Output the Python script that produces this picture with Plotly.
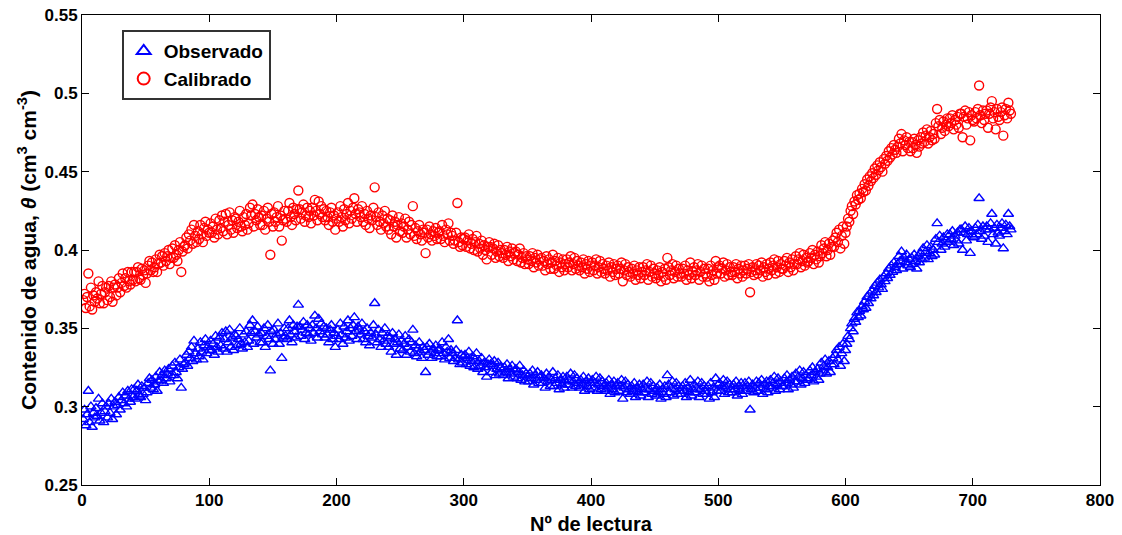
import plotly.graph_objects as go

# water content readings (cm3 cm-3), reading number 1..730
observado = [
    0.292, 0.298, 0.288, 0.295, 0.310, 0.290, 0.300, 0.287, 0.296, 0.293,
    0.299, 0.294, 0.305, 0.291, 0.296, 0.302, 0.290, 0.297, 0.300, 0.293,
    0.302, 0.296, 0.305, 0.292, 0.300, 0.303, 0.295, 0.301, 0.306, 0.298,
    0.304, 0.309, 0.302, 0.307, 0.300, 0.310, 0.305, 0.303, 0.311, 0.306,
    0.311, 0.305, 0.310, 0.314, 0.307, 0.306, 0.313, 0.308, 0.312, 0.304,
    0.309, 0.315, 0.318, 0.312, 0.317, 0.311, 0.314, 0.319, 0.310, 0.316,
    0.322, 0.317, 0.320, 0.315, 0.323, 0.318, 0.321, 0.324, 0.316, 0.320,
    0.326, 0.320, 0.328, 0.322, 0.318, 0.325, 0.330, 0.312, 0.324, 0.327,
    0.328, 0.333, 0.326, 0.335, 0.331, 0.338, 0.329, 0.342, 0.334, 0.330,
    0.337, 0.332, 0.341, 0.335, 0.330, 0.339, 0.343, 0.334, 0.338, 0.336,
    0.342, 0.336, 0.340, 0.333, 0.345, 0.338, 0.335, 0.344, 0.339, 0.347,
    0.337, 0.343, 0.348, 0.335, 0.341, 0.349, 0.338, 0.344, 0.336, 0.346,
    0.345, 0.339, 0.343, 0.350, 0.340, 0.337, 0.346, 0.341, 0.348, 0.338,
    0.342, 0.352, 0.347, 0.355, 0.340, 0.348, 0.344, 0.351, 0.346, 0.341,
    0.347, 0.341, 0.350, 0.338, 0.345, 0.352, 0.343, 0.323, 0.348, 0.340,
    0.349, 0.343, 0.346, 0.353, 0.340, 0.347, 0.331, 0.344, 0.350, 0.345,
    0.343, 0.350, 0.355, 0.346, 0.341, 0.352, 0.348, 0.344, 0.351, 0.365,
    0.351, 0.345, 0.349, 0.354, 0.343, 0.347, 0.352, 0.346, 0.350, 0.342,
    0.352, 0.347, 0.358, 0.350, 0.344, 0.356, 0.348, 0.353, 0.346, 0.351,
    0.344, 0.350, 0.346, 0.341, 0.349, 0.352, 0.343, 0.347, 0.338, 0.345,
    0.349, 0.343, 0.353, 0.346, 0.340, 0.351, 0.344, 0.348, 0.355, 0.342,
    0.350, 0.345, 0.352, 0.357, 0.348, 0.343, 0.351, 0.349, 0.346, 0.353,
    0.343, 0.348, 0.341, 0.350, 0.345, 0.339, 0.347, 0.344, 0.352, 0.366,
    0.346, 0.341, 0.349, 0.343, 0.338, 0.347, 0.342, 0.350, 0.340, 0.345,
    0.338, 0.344, 0.335, 0.347, 0.340, 0.343, 0.333, 0.341, 0.346, 0.337,
    0.342, 0.336, 0.340, 0.345, 0.333, 0.338, 0.343, 0.335, 0.341, 0.349,
    0.334, 0.339, 0.332, 0.337, 0.341, 0.335, 0.331, 0.338, 0.336, 0.322,
    0.338, 0.333, 0.340, 0.335, 0.331, 0.337, 0.334, 0.339, 0.332, 0.336,
    0.337, 0.332, 0.341, 0.334, 0.330, 0.338, 0.335, 0.343, 0.331, 0.336,
    0.334, 0.329, 0.331, 0.336, 0.355, 0.330, 0.327, 0.333, 0.328, 0.332,
    0.333, 0.327, 0.331, 0.335, 0.326, 0.329, 0.332, 0.325, 0.330, 0.334,
    0.324, 0.329, 0.326, 0.331, 0.322, 0.328, 0.325, 0.319, 0.327, 0.330,
    0.327, 0.322, 0.326, 0.329, 0.320, 0.324, 0.328, 0.321, 0.325, 0.323,
    0.320, 0.325, 0.322, 0.327, 0.318, 0.324, 0.321, 0.326, 0.319, 0.323,
    0.324, 0.318, 0.322, 0.326, 0.317, 0.320, 0.323, 0.316, 0.321, 0.319,
    0.316, 0.321, 0.318, 0.323, 0.314, 0.320, 0.317, 0.322, 0.315, 0.319,
    0.320, 0.315, 0.318, 0.312, 0.321, 0.316, 0.319, 0.313, 0.317, 0.322,
    0.313, 0.318, 0.315, 0.320, 0.311, 0.317, 0.314, 0.319, 0.312, 0.316,
    0.319, 0.314, 0.317, 0.321, 0.312, 0.316, 0.320, 0.313, 0.318, 0.315,
    0.312, 0.317, 0.314, 0.319, 0.310, 0.316, 0.313, 0.318, 0.311, 0.315,
    0.317, 0.312, 0.315, 0.319, 0.310, 0.314, 0.318, 0.311, 0.316, 0.313,
    0.310, 0.315, 0.312, 0.317, 0.308, 0.314, 0.311, 0.316, 0.309, 0.313,
    0.315, 0.310, 0.313, 0.317, 0.305, 0.312, 0.316, 0.309, 0.314, 0.311,
    0.308, 0.313, 0.310, 0.315, 0.306, 0.312, 0.309, 0.314, 0.307, 0.311,
    0.314, 0.309, 0.312, 0.316, 0.306, 0.311, 0.315, 0.308, 0.313, 0.310,
    0.307, 0.312, 0.309, 0.314, 0.305, 0.311, 0.308, 0.313, 0.306, 0.320,
    0.314, 0.309, 0.312, 0.316, 0.307, 0.311, 0.315, 0.308, 0.313, 0.310,
    0.308, 0.313, 0.310, 0.315, 0.306, 0.312, 0.309, 0.317, 0.307, 0.311,
    0.314, 0.309, 0.312, 0.316, 0.306, 0.311, 0.315, 0.308, 0.313, 0.310,
    0.308, 0.313, 0.305, 0.315, 0.309, 0.312, 0.306, 0.318, 0.310, 0.314,
    0.315, 0.310, 0.313, 0.317, 0.308, 0.312, 0.316, 0.309, 0.314, 0.311,
    0.309, 0.314, 0.311, 0.316, 0.307, 0.313, 0.310, 0.315, 0.308, 0.312,
    0.315, 0.310, 0.313, 0.316, 0.298, 0.311, 0.314, 0.309, 0.312, 0.316,
    0.310, 0.315, 0.312, 0.317, 0.308, 0.314, 0.311, 0.316, 0.309, 0.313,
    0.317, 0.312, 0.315, 0.319, 0.310, 0.314, 0.318, 0.311, 0.316, 0.313,
    0.313, 0.318, 0.315, 0.320, 0.311, 0.317, 0.314, 0.319, 0.312, 0.316,
    0.321, 0.316, 0.319, 0.323, 0.314, 0.318, 0.322, 0.315, 0.320, 0.317,
    0.318, 0.323, 0.320, 0.325, 0.316, 0.322, 0.319, 0.324, 0.317, 0.321,
    0.328, 0.323, 0.326, 0.330, 0.321, 0.325, 0.329, 0.322, 0.327, 0.331,
    0.327, 0.333, 0.336, 0.330, 0.338, 0.326, 0.334, 0.340, 0.329, 0.336,
    0.340, 0.345, 0.343, 0.350, 0.353, 0.348, 0.356, 0.354, 0.360, 0.357,
    0.361, 0.358, 0.364, 0.362, 0.367, 0.363, 0.370, 0.366, 0.372, 0.369,
    0.374, 0.371, 0.377, 0.373, 0.379, 0.376, 0.381, 0.378, 0.375, 0.383,
    0.380, 0.385, 0.382, 0.388, 0.384, 0.390, 0.386, 0.392, 0.389, 0.387,
    0.391, 0.396, 0.393, 0.399, 0.388, 0.395, 0.392, 0.397, 0.390, 0.394,
    0.389, 0.395, 0.391, 0.397, 0.393, 0.388, 0.396, 0.392, 0.398, 0.394,
    0.401, 0.395, 0.399, 0.403, 0.394, 0.398, 0.402, 0.396, 0.400, 0.397,
    0.407, 0.417, 0.405, 0.409, 0.400, 0.404, 0.408, 0.402, 0.406, 0.410,
    0.405, 0.410, 0.407, 0.412, 0.403, 0.409, 0.406, 0.411, 0.404, 0.413,
    0.413, 0.400, 0.411, 0.415, 0.406, 0.410, 0.414, 0.398, 0.412, 0.409,
    0.408, 0.414, 0.410, 0.416, 0.433, 0.412, 0.407, 0.415, 0.409, 0.413,
    0.415, 0.405, 0.413, 0.417, 0.423, 0.410, 0.414, 0.404, 0.416, 0.411,
    0.409, 0.414, 0.417, 0.401, 0.412, 0.416, 0.410, 0.423, 0.415, 0.413,
]

calibrado = [
    0.368, 0.372, 0.363, 0.370, 0.385, 0.364, 0.376, 0.362, 0.371, 0.367,
    0.373, 0.369, 0.380, 0.366, 0.372, 0.377, 0.366, 0.373, 0.376, 0.368,
    0.377, 0.370, 0.380, 0.367, 0.376, 0.378, 0.371, 0.376, 0.382, 0.373,
    0.379, 0.385, 0.377, 0.382, 0.376, 0.386, 0.380, 0.378, 0.386, 0.381,
    0.386, 0.380, 0.386, 0.389, 0.382, 0.381, 0.388, 0.384, 0.387, 0.379,
    0.385, 0.390, 0.393, 0.387, 0.392, 0.386, 0.389, 0.394, 0.386, 0.391,
    0.397, 0.392, 0.396, 0.390, 0.398, 0.393, 0.396, 0.400, 0.391, 0.395,
    0.401, 0.395, 0.403, 0.397, 0.393, 0.400, 0.405, 0.386, 0.399, 0.402,
    0.403, 0.408, 0.401, 0.410, 0.406, 0.413, 0.404, 0.416, 0.409, 0.405,
    0.412, 0.407, 0.416, 0.410, 0.405, 0.414, 0.418, 0.409, 0.413, 0.411,
    0.417, 0.411, 0.415, 0.408, 0.420, 0.413, 0.410, 0.419, 0.414, 0.422,
    0.412, 0.418, 0.423, 0.410, 0.416, 0.424, 0.413, 0.419, 0.411, 0.421,
    0.420, 0.414, 0.418, 0.425, 0.415, 0.412, 0.421, 0.416, 0.423, 0.413,
    0.417, 0.427, 0.422, 0.429, 0.415, 0.423, 0.419, 0.426, 0.421, 0.416,
    0.422, 0.416, 0.425, 0.413, 0.420, 0.427, 0.418, 0.397, 0.423, 0.415,
    0.424, 0.418, 0.421, 0.428, 0.415, 0.422, 0.406, 0.419, 0.425, 0.420,
    0.418, 0.425, 0.430, 0.421, 0.416, 0.427, 0.423, 0.419, 0.426, 0.438,
    0.426, 0.420, 0.424, 0.429, 0.418, 0.422, 0.427, 0.421, 0.425, 0.417,
    0.427, 0.422, 0.432, 0.425, 0.419, 0.431, 0.423, 0.428, 0.421, 0.426,
    0.419, 0.425, 0.421, 0.416, 0.424, 0.427, 0.418, 0.422, 0.413, 0.420,
    0.424, 0.418, 0.428, 0.421, 0.415, 0.426, 0.419, 0.423, 0.430, 0.417,
    0.425, 0.420, 0.427, 0.433, 0.423, 0.418, 0.426, 0.424, 0.421, 0.428,
    0.418, 0.423, 0.416, 0.425, 0.420, 0.414, 0.422, 0.419, 0.427, 0.440,
    0.421, 0.416, 0.424, 0.418, 0.413, 0.422, 0.417, 0.425, 0.415, 0.420,
    0.413, 0.419, 0.410, 0.422, 0.415, 0.418, 0.408, 0.416, 0.421, 0.412,
    0.417, 0.411, 0.415, 0.420, 0.408, 0.413, 0.418, 0.410, 0.416, 0.428,
    0.409, 0.414, 0.407, 0.412, 0.416, 0.410, 0.406, 0.413, 0.411, 0.398,
    0.413, 0.408, 0.415, 0.410, 0.406, 0.412, 0.409, 0.414, 0.407, 0.411,
    0.412, 0.407, 0.416, 0.409, 0.405, 0.413, 0.410, 0.417, 0.406, 0.411,
    0.409, 0.404, 0.406, 0.411, 0.430, 0.405, 0.402, 0.408, 0.403, 0.407,
    0.408, 0.402, 0.406, 0.410, 0.401, 0.404, 0.407, 0.400, 0.405, 0.409,
    0.399, 0.404, 0.401, 0.406, 0.397, 0.403, 0.400, 0.394, 0.402, 0.405,
    0.402, 0.397, 0.401, 0.404, 0.395, 0.399, 0.403, 0.396, 0.400, 0.398,
    0.395, 0.400, 0.397, 0.402, 0.393, 0.399, 0.396, 0.401, 0.394, 0.398,
    0.399, 0.393, 0.397, 0.401, 0.392, 0.395, 0.398, 0.391, 0.396, 0.394,
    0.391, 0.396, 0.393, 0.398, 0.389, 0.395, 0.392, 0.397, 0.390, 0.394,
    0.395, 0.390, 0.393, 0.387, 0.396, 0.391, 0.394, 0.388, 0.392, 0.397,
    0.388, 0.393, 0.390, 0.395, 0.386, 0.392, 0.389, 0.394, 0.387, 0.391,
    0.394, 0.389, 0.392, 0.396, 0.387, 0.391, 0.395, 0.388, 0.393, 0.390,
    0.387, 0.392, 0.389, 0.394, 0.385, 0.391, 0.388, 0.393, 0.386, 0.390,
    0.392, 0.387, 0.390, 0.394, 0.385, 0.389, 0.393, 0.386, 0.391, 0.388,
    0.385, 0.390, 0.387, 0.392, 0.383, 0.389, 0.386, 0.391, 0.384, 0.388,
    0.390, 0.385, 0.388, 0.392, 0.380, 0.387, 0.391, 0.384, 0.389, 0.386,
    0.383, 0.388, 0.385, 0.390, 0.381, 0.387, 0.384, 0.389, 0.382, 0.386,
    0.389, 0.384, 0.387, 0.391, 0.381, 0.386, 0.390, 0.383, 0.388, 0.385,
    0.382, 0.387, 0.384, 0.389, 0.380, 0.386, 0.383, 0.388, 0.381, 0.395,
    0.389, 0.384, 0.387, 0.391, 0.382, 0.386, 0.390, 0.383, 0.388, 0.385,
    0.383, 0.388, 0.385, 0.390, 0.381, 0.387, 0.384, 0.392, 0.382, 0.386,
    0.389, 0.384, 0.387, 0.391, 0.381, 0.386, 0.390, 0.383, 0.388, 0.385,
    0.383, 0.388, 0.380, 0.390, 0.384, 0.387, 0.381, 0.393, 0.385, 0.389,
    0.390, 0.385, 0.388, 0.392, 0.383, 0.387, 0.391, 0.384, 0.389, 0.386,
    0.384, 0.389, 0.386, 0.391, 0.382, 0.388, 0.385, 0.390, 0.383, 0.387,
    0.390, 0.385, 0.388, 0.391, 0.373, 0.386, 0.389, 0.384, 0.387, 0.391,
    0.385, 0.390, 0.387, 0.392, 0.383, 0.389, 0.386, 0.391, 0.384, 0.388,
    0.392, 0.387, 0.390, 0.394, 0.385, 0.389, 0.393, 0.386, 0.391, 0.388,
    0.388, 0.393, 0.390, 0.395, 0.386, 0.392, 0.389, 0.394, 0.387, 0.391,
    0.396, 0.391, 0.394, 0.398, 0.389, 0.393, 0.397, 0.390, 0.395, 0.392,
    0.393, 0.398, 0.395, 0.400, 0.391, 0.397, 0.394, 0.399, 0.392, 0.396,
    0.403, 0.398, 0.401, 0.405, 0.396, 0.400, 0.404, 0.397, 0.402, 0.406,
    0.402, 0.408, 0.411, 0.405, 0.413, 0.401, 0.409, 0.415, 0.404, 0.411,
    0.415, 0.420, 0.418, 0.425, 0.428, 0.423, 0.431, 0.429, 0.435, 0.432,
    0.436, 0.433, 0.439, 0.437, 0.442, 0.438, 0.445, 0.441, 0.447, 0.444,
    0.449, 0.446, 0.452, 0.448, 0.454, 0.451, 0.456, 0.453, 0.450, 0.458,
    0.455, 0.460, 0.457, 0.463, 0.459, 0.465, 0.461, 0.467, 0.464, 0.462,
    0.466, 0.471, 0.468, 0.474, 0.463, 0.470, 0.467, 0.472, 0.465, 0.469,
    0.463, 0.469, 0.465, 0.471, 0.467, 0.462, 0.470, 0.466, 0.472, 0.468,
    0.475, 0.469, 0.473, 0.477, 0.468, 0.472, 0.476, 0.470, 0.474, 0.471,
    0.481, 0.490, 0.479, 0.483, 0.474, 0.478, 0.482, 0.476, 0.480, 0.484,
    0.479, 0.484, 0.481, 0.486, 0.477, 0.483, 0.480, 0.485, 0.478, 0.487,
    0.487, 0.472, 0.485, 0.489, 0.480, 0.484, 0.488, 0.470, 0.486, 0.483,
    0.482, 0.488, 0.484, 0.490, 0.505, 0.486, 0.481, 0.489, 0.483, 0.487,
    0.489, 0.478, 0.487, 0.491, 0.495, 0.484, 0.488, 0.477, 0.490, 0.485,
    0.483, 0.488, 0.491, 0.473, 0.486, 0.490, 0.484, 0.494, 0.489, 0.487,
]

lectura = list(range(1, len(observado) + 1))

fam = "Liberation Sans"

fig = go.Figure()
fig.add_trace(go.Scatter(x=lectura, y=observado, mode="markers", name="Observado",
                         marker=dict(symbol="triangle-up-open", size=9, color="#0000ff",
                                     line=dict(width=1.4))))
fig.add_trace(go.Scatter(x=lectura, y=calibrado, mode="markers", name="Calibrado",
                         marker=dict(symbol="circle-open", size=9, color="#ff0000",
                                     line=dict(width=1.4))))

axis_style = dict(showline=True, linecolor="black", linewidth=1, mirror="ticks",
                  ticks="inside", ticklen=7, tickcolor="black", showgrid=False, zeroline=False,
                  automargin=False, ticklabeloverflow="allow",
                  tickfont=dict(family=fam, size=17, color="black", weight="bold"))

fig.update_xaxes(range=[0, 800], dtick=100, tick0=0,
                 title=dict(text="Nº de lectura",
                            font=dict(family=fam, size=20, color="black", weight="bold"),
                            standoff=9),
                 **axis_style)
fig.update_yaxes(range=[0.25, 0.55], dtick=0.05, tick0=0.25,
                 title=dict(text="Contenido de agua, <i>θ</i> (cm<sup>3</sup> cm<sup>-3</sup>)",
                            font=dict(family=fam, size=21, color="black", weight="bold"),
                            standoff=2),
                 **axis_style)

fig.update_layout(
    width=1122, height=535,
    margin=dict(l=82, r=22, t=15, b=50),
    plot_bgcolor="white", paper_bgcolor="white",
    legend=dict(x=0.039, y=0.968, xanchor="left", yanchor="top",
                bordercolor="#333333", borderwidth=2, bgcolor="white",
                font=dict(family=fam, size=19, color="black", weight="bold"),
                itemsizing="constant", tracegroupgap=0),
)

# drop the default page margin so the figure fills the window
fig.write_html("out.html", config={"displayModeBar": False},
               post_script="document.body.style.margin = '0';")
